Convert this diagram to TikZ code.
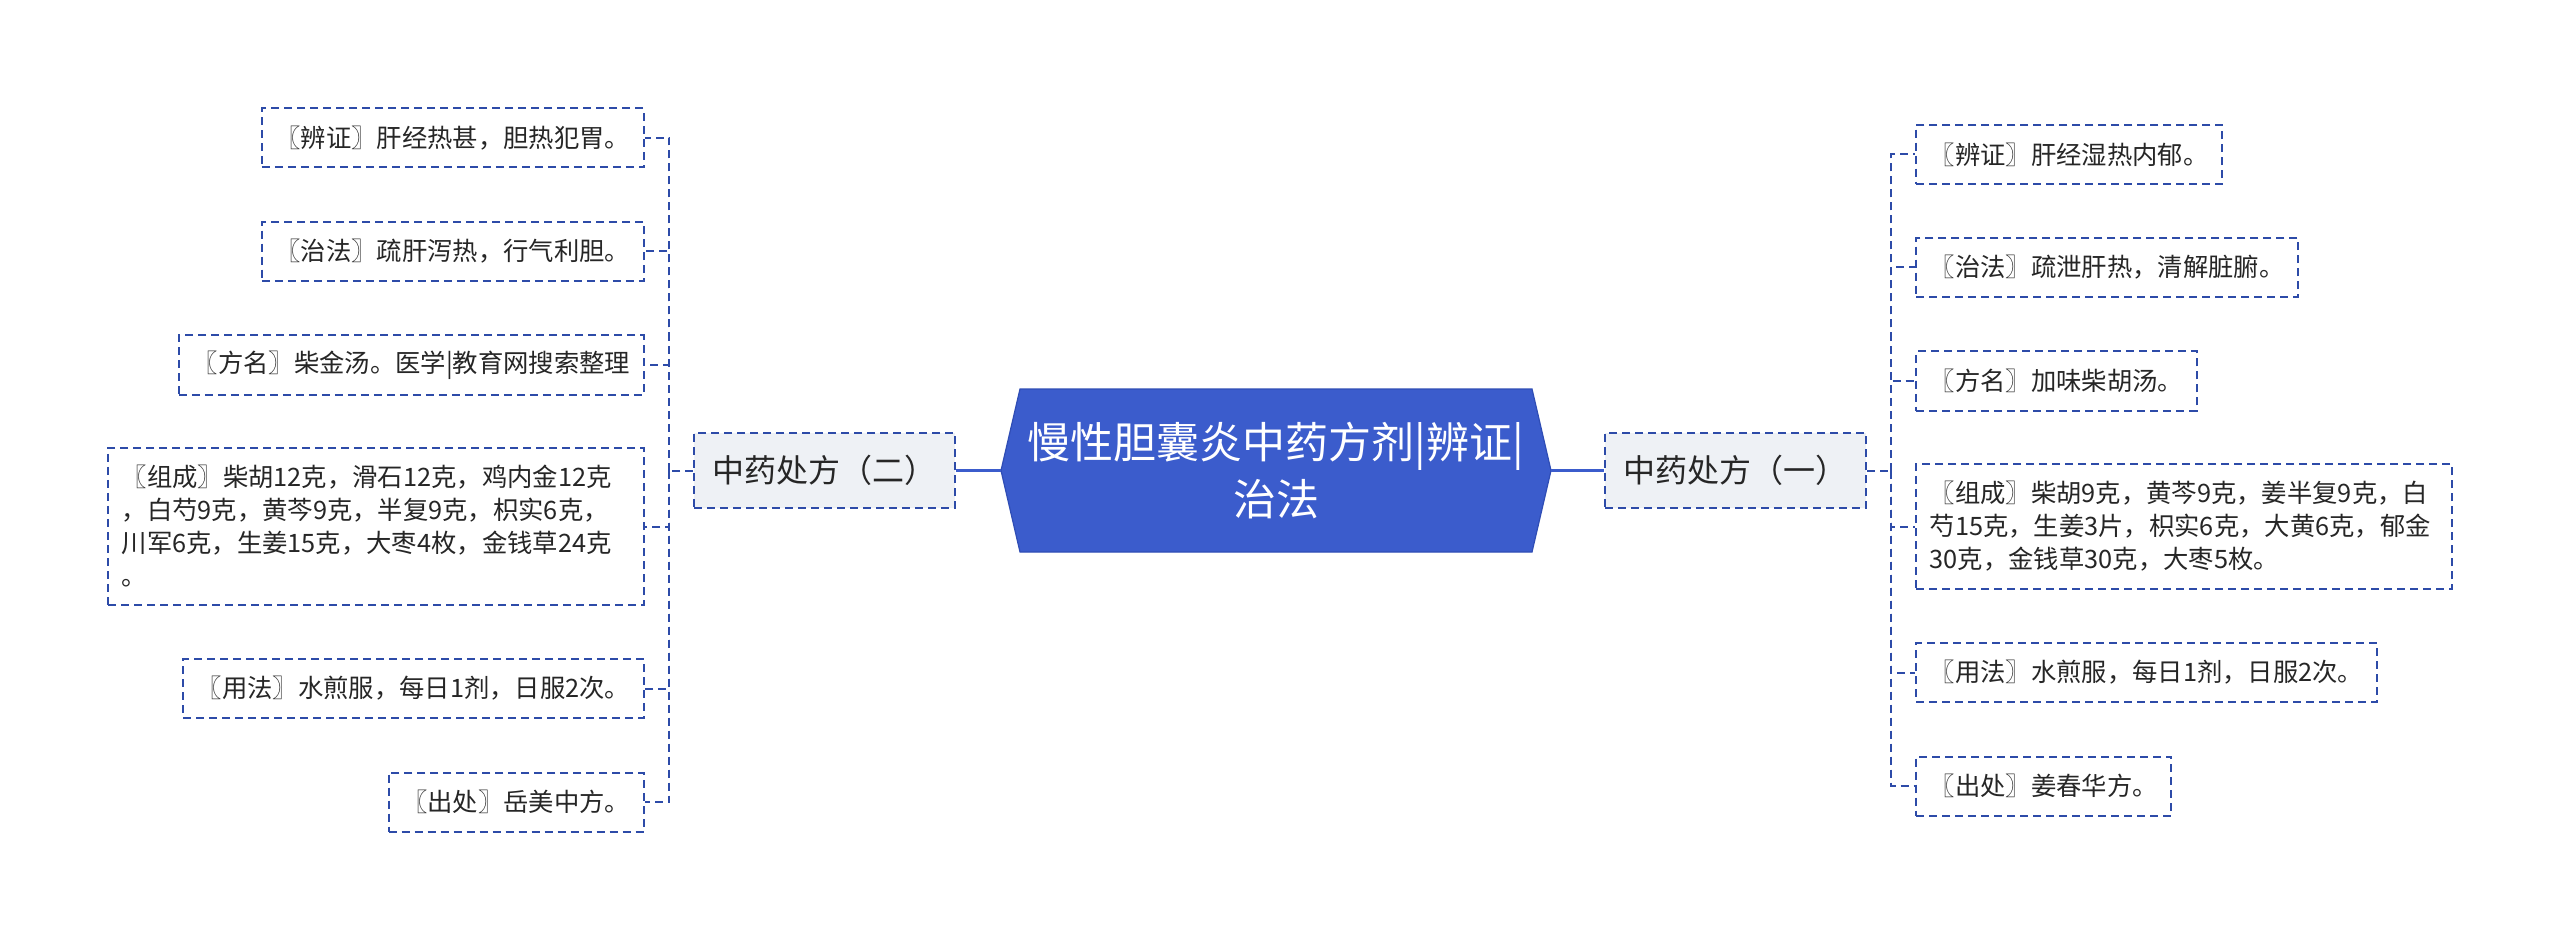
\documentclass[tikz,border=0pt]{standalone}
\usepackage{fontspec}
\setmainfont{Noto Sans CJK SC}
\definecolor{hub}{HTML}{3B5CCC}
\definecolor{hubdraw}{HTML}{2F4DB5}
\definecolor{dashc}{HTML}{2D4BA8}
\definecolor{brfill}{HTML}{EEF1F5}
\definecolor{txt}{HTML}{262626}
\tikzset{
 leaf/.style={draw=dashc, line width=1pt, dash pattern=on 4pt off 2.5pt, inner xsep=6.85pt, inner ysep=7pt, minimum height=29.5pt, align=left, text=txt, font=\fontsize{12.67pt}{16.5pt}\selectfont},
 branch/.style={draw=dashc, fill=brfill, line width=1pt, dash pattern=on 4pt off 2.5pt, minimum width=130.5pt, minimum height=37.5pt, inner sep=0pt, text=txt, font=\fontsize{16pt}{20pt}\selectfont},
 conn/.style={draw=dashc, line width=1pt, dash pattern=on 4pt off 2.5pt},
 hubline/.style={draw=hub, line width=1.5pt},
}
\begin{document}
\begin{tikzpicture}[x=0.5pt,y=-0.5pt]
\useasboundingbox[fill=white] (0,0) rectangle (2560,941);
% central hexagon
\fill[hub, draw=hubdraw, line width=0.6pt] (1001,470.5) -- (1020,389) -- (1532,389) -- (1551,470.5) -- (1532,552) -- (1020,552) -- cycle;
\node[minimum width=275pt, minimum height=81.5pt, inner sep=0pt, text=white, align=center, font=\fontsize{21.5pt}{28.5pt}\selectfont] (hubn) at (1276,470.5) {慢性胆囊炎中药方剂|辨证|\\治法};
% branches
\node[branch] (b1) at (1735.5,470.5) {中药处方（一）};
\node[branch] (b2) at (824.5,470.5) {中药处方（二）};
\draw[hubline] (hubn.east) -- (b1.west);
\draw[hubline] (hubn.west) -- (b2.east);
% right leaves
\node[leaf, anchor=west] (r1) at (1915,154.5) {〖辨证〗肝经湿热内郁。};
\node[leaf, anchor=west] (r2) at (1915,267.5) {〖治法〗疏泄肝热，清解脏腑。};
\node[leaf, anchor=west] (r3) at (1915,381) {〖方名〗加味柴胡汤。};
\node[leaf, anchor=west, minimum height=62.5pt, text width=254.3pt] (r4) at (1915,526.5) {〖组成〗柴胡9克，黄芩9克，姜半复9克，白\\芍15克，生姜3片，枳实6克，大黄6克，郁金\\30克，金钱草30克，大枣5枚。};
\node[leaf, anchor=west] (r5) at (1915,672.5) {〖用法〗水煎服，每日1剂，日服2次。};
\node[leaf, anchor=west] (r6) at (1915,786) {〖出处〗姜春华方。};
% left leaves
\node[leaf, anchor=east] (l1) at (645,138) {〖辨证〗肝经热甚，胆热犯胃。};
\node[leaf, anchor=east] (l2) at (645,251.5) {〖治法〗疏肝泻热，行气利胆。};
\node[leaf, anchor=east] (l3) at (645,365) {〖方名〗柴金汤。医学|教育网搜索整理};
\node[leaf, anchor=east, minimum height=78.5pt, text width=254.3pt] (l4) at (645,526.5) {〖组成〗柴胡12克，滑石12克，鸡内金12克\\，白芍9克，黄芩9克，半复9克，枳实6克，\\川军6克，生姜15克，大枣4枚，金钱草24克\\。};
\node[leaf, anchor=east] (l5) at (645,688.5) {〖用法〗水煎服，每日1剂，日服2次。};
\node[leaf, anchor=east] (l6) at (645,802) {〖出处〗岳美中方。};
% connectors
\coordinate (rj) at (1891,470.5);
\coordinate (lj) at (669,470.5);
\draw[conn] (b1.east) -- (rj);
\draw[conn] (b2.west) -- (lj);
\foreach \n in {r1,r2,r3,r4,r5,r6} \draw[conn] (rj) |- (\n.west);
\foreach \n in {l1,l2,l3,l4,l5,l6} \draw[conn] (lj) |- (\n.east);
\end{tikzpicture}
\end{document}
